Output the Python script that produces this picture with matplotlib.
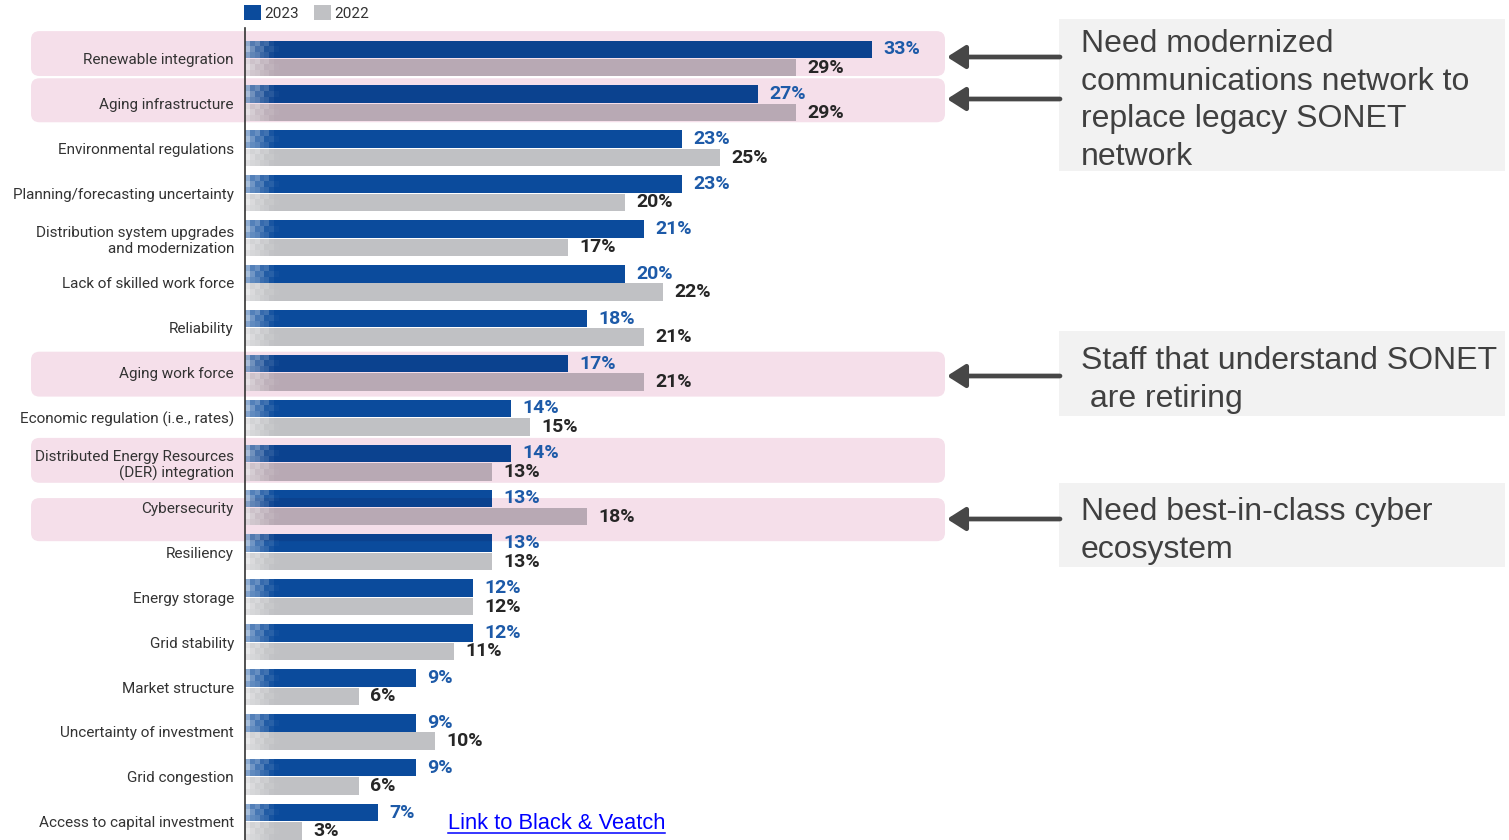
import numpy as np
import matplotlib
matplotlib.use("Agg")
import matplotlib.pyplot as plt
from matplotlib.patches import FancyBboxPatch, Rectangle
from matplotlib.lines import Line2D

# ---------------- data ----------------
categories = [
    "Renewable integration", "Aging infrastructure", "Environmental regulations",
    "Planning/forecasting uncertainty", "Distribution system upgrades\nand modernization",
    "Lack of skilled work force", "Reliability", "Aging work force",
    "Economic regulation (i.e., rates)", "Distributed Energy Resources\n(DER) integration",
    "Cybersecurity", "Resiliency", "Energy storage", "Grid stability", "Market structure",
    "Uncertainty of investment", "Grid congestion", "Access to capital investment",
]
values_2023 = [33, 27, 23, 23, 21, 20, 18, 17, 14, 14, 13, 13, 12, 12, 9, 9, 9, 7]
values_2022 = [29, 29, 25, 20, 17, 22, 21, 21, 15, 13, 18, 13, 12, 11, 6, 10, 6, 3]
series_labels = ["2023", "2022"]
highlighted = ["Renewable integration", "Aging infrastructure", "Aging work force",
               "Distributed Energy Resources\n(DER) integration", "Cybersecurity"]
notes = [
    ["Need modernized", "communications network to", "replace legacy SONET", "network"],
    ["Staff that understand SONET", " are retiring"],
    ["Need best-in-class cyber", "ecosystem"],
]
link_text = "Link to Black & Veatch"

# ---------------- styles ----------------
W, H = 1509, 840
BLUE = "#0b4b9c"
GRAY = "#c0c1c4"
PINK = "#f5dfea"
LBL_BLUE = "#1d5aa8"
LBL_DARK = "#262626"
TXT = "#333333"
NOTE_TXT = "#404040"
NOTE_BG = "#f2f2f2"
# band vertical extents relative to row centre (row units)
band_ext = [(-0.61, 0.39), (-0.56, 0.42), (-0.47, 0.53), (-0.55, 0.45), (-0.21, 0.75)]
# note boxes (pixel): x0, x1, y0, y1, first baseline, line pitch
note_boxes = [(1059, 1505, 19, 171, 52, 37.7), (1059, 1505, 331, 416, 369, 38),
              (1059, 1505, 483, 567, 520, 38)]
arrow_y = [57, 99, 376, 519]


def fx(x):
    return x / W


def fy(y):
    return 1 - y / H


def mult(c1, c2):
    a = np.array(matplotlib.colors.to_rgb(c1))
    b = np.array(matplotlib.colors.to_rgb(c2))
    return tuple(a * b)


fig = plt.figure(figsize=(W / 100, H / 100), dpi=100)
fig.patch.set_facecolor("white")

X0 = 245
PX_PER_PCT = 19.0
ROW0 = 58.5
PITCH = 44.9
ax = fig.add_axes([fx(X0), 0, 1 - fx(X0), 1])
ax.patch.set_visible(False)

rows = np.arange(len(categories))
bh = 0.39
off = 0.205

# highlight bands
bands = []
for name, (t, b) in zip(highlighted, band_ext):
    r = categories.index(name)
    x0 = (31 - X0) / PX_PER_PCT
    x1 = (945 - X0) / PX_PER_PCT
    rx = 8.5 / PX_PER_PCT
    ry = 8.5 / PITCH
    p = FancyBboxPatch((x0, r + t), x1 - x0, b - t,
                       boxstyle=f"round,pad=0,rounding_size={rx}",
                       mutation_aspect=ry / rx, facecolor=PINK, edgecolor="none",
                       zorder=0, clip_on=False)
    ax.add_patch(p)
    bands.append(p)

c23 = ax.barh(rows - off, values_2023, height=bh, color=BLUE, zorder=2, label=series_labels[0])
c22 = ax.barh(rows + off, values_2022, height=bh, color=GRAY, zorder=2, label=series_labels[1])

# multiply-blended parts of bars lying on the pink bands
for band in bands:
    o23 = ax.barh(rows - off, values_2023, height=bh, color=mult(BLUE, PINK), zorder=2.1)
    o22 = ax.barh(rows + off, values_2022, height=bh, color=mult(GRAY, PINK), zorder=2.1)
    for pt in list(o23) + list(o22):
        pt.set_clip_path(band)

# pixelated fade at bar starts
grad = np.ones((3, 7, 4))
grad[0, :, 3] = [0.55, 0.30, 0.38, 0.18, 0.22, 0.06, 0.0]
grad[1, :, 3] = [0.65, 0.42, 0.25, 0.28, 0.10, 0.12, 0.03]
grad[2, :, 3] = [0.5, 0.36, 0.32, 0.2, 0.16, 0.05, 0.0]
for pt in list(c23) + list(c22):
    yb = pt.get_y()
    im = ax.imshow(grad, extent=(0, 1.75, yb + bh, yb), aspect="auto",
                   interpolation="nearest", zorder=2.2)
    im.set_clip_path(pt)

# value labels
ax.bar_label(c23, labels=[f"{v}%" for v in values_2023], padding=8, fontsize=14,
             fontweight="bold", color=LBL_BLUE, family="Roboto", zorder=4)
ax.bar_label(c22, labels=[f"{v}%" for v in values_2022], padding=8, fontsize=14,
             fontweight="bold", color=LBL_DARK, family="Roboto", zorder=4)

ax.set_xlim(0, (W - X0) / PX_PER_PCT)
ax.set_ylim((H - ROW0) / PITCH, -ROW0 / PITCH)
ax.set_yticks(rows)
ax.set_yticklabels(categories, fontsize=11, family="Roboto", color=TXT)
ax.tick_params(axis="y", length=0, pad=8)
ax.set_xticks([])
for s in ["top", "right", "bottom"]:
    ax.spines[s].set_visible(False)
ax.spines["left"].set_color("#333333")
ax.spines["left"].set_linewidth(1.2)
ax.spines["left"].set_bounds((28 - ROW0) / PITCH, (H - ROW0) / PITCH)
ax.spines["left"].set_zorder(3)

leg = ax.legend(handles=[c23, c22], labels=series_labels, loc="upper left",
                bbox_to_anchor=(fx(244), fy(5)), bbox_transform=fig.transFigure,
                ncol=2, frameon=False, handlelength=1.1, handleheight=1.1,
                handletextpad=0.25, columnspacing=0.95, borderpad=0, borderaxespad=0,
                prop={"family": "Roboto", "size": 11})
for t in leg.get_texts():
    t.set_color(TXT)

# notes
for (x0, x1, y0, y1, base, pitch), lines in zip(note_boxes, notes):
    fig.add_artist(Rectangle((fx(x0), fy(y1)), fx(x1) - fx(x0), (y1 - y0) / H,
                             transform=fig.transFigure, facecolor=NOTE_BG,
                             edgecolor="none", zorder=0))
    for i, ln in enumerate(lines):
        fig.text(fx(1081), fy(base + i * pitch), ln, va="baseline", ha="left",
                 fontsize=23, family="Liberation Sans", color=NOTE_TXT)

for y in arrow_y:
    ax.annotate("", xy=(fx(947), fy(y)), xycoords="figure fraction",
                xytext=(fx(1060), fy(y)), textcoords="figure fraction",
                arrowprops=dict(arrowstyle="-|>,head_length=0.55,head_width=0.35",
                                lw=3.4, color="#474747", shrinkA=0, shrinkB=0,
                                mutation_scale=20),
                annotation_clip=False)

lt = fig.text(fx(448), fy(829), link_text, va="baseline", ha="left", fontsize=15.75,
              family="Liberation Sans", color="#0000ff")
fig.canvas.draw()
bb = lt.get_window_extent()
fig.add_artist(Line2D([bb.x0 / W, bb.x1 / W], [fy(832.5)] * 2,
                      transform=fig.transFigure, color="#0000ff", lw=1.1))

fig.savefig("out.png", dpi=100, facecolor="white")
